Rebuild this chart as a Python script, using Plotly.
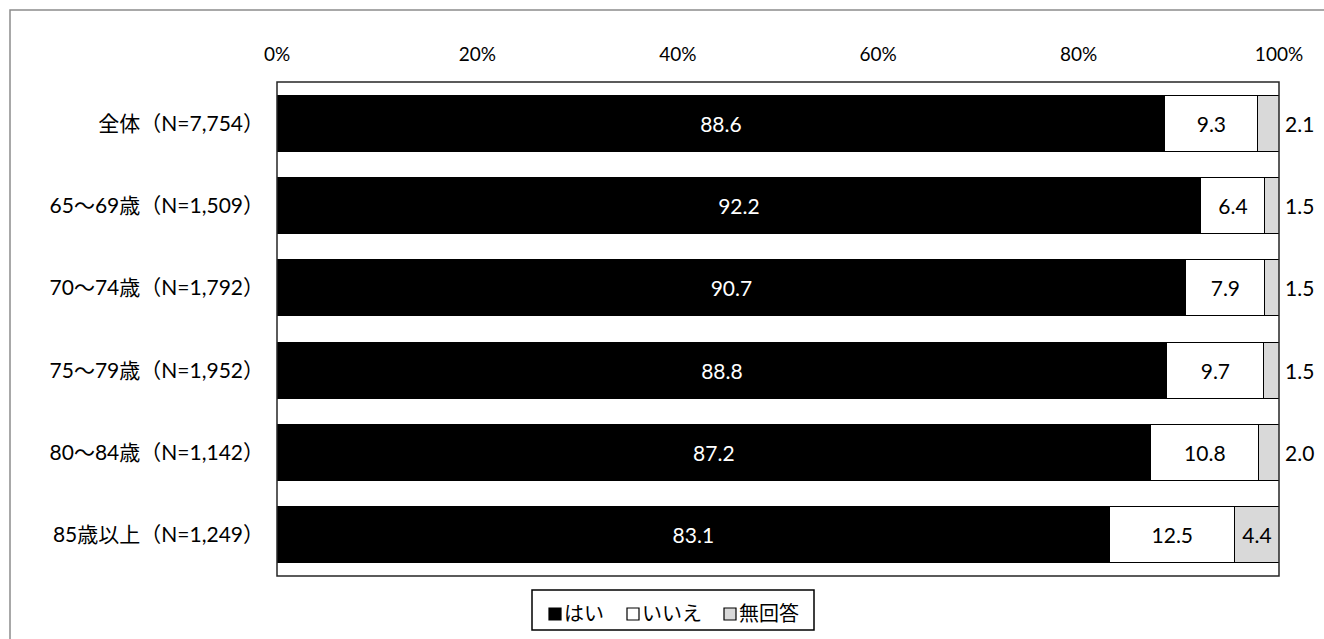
import plotly.graph_objects as go

categories = [
    "全体（N=7,754）",
    "65～69歳（N=1,509）",
    "70～74歳（N=1,792）",
    "75～79歳（N=1,952）",
    "80～84歳（N=1,142）",
    "85歳以上（N=1,249）",
]
series_names = ["はい", "いいえ", "無回答"]
yes_vals = [88.6, 92.2, 90.7, 88.8, 87.2, 83.1]
no_vals = [9.3, 6.4, 7.9, 9.7, 10.8, 12.5]
na_vals = [2.1, 1.5, 1.5, 1.5, 2.0, 4.4]
x_ticks = [0, 20, 40, 60, 80, 100]
x_tick_labels = ["0%", "20%", "40%", "60%", "80%", "100%"]

FONT = "Lato, Noto Sans CJK JP, sans-serif"
CJK = "Noto Sans CJK JP, sans-serif"
COLORS = ["#000000", "#ffffff", "#d9d9d9"]
TEXT_COLORS = ["#ffffff", "#000000", "#000000"]

W, H = 1324, 639
L, R, T, B = 277, 45, 82, 63
pw, ph = W - L - R, H - T - B


def px_x(px):
    return (px - L) / pw


def px_y(py):
    return (H - B - py) / ph


def fmt(v):
    return f"{v:.1f}"


fig = go.Figure()

series_vals = [yes_vals, no_vals, na_vals]
for i, (name, vals) in enumerate(zip(series_names, series_vals)):
    if i == 2:
        # narrow "no answer" segments are labelled beyond the bar end instead
        labels = [fmt(v) if v >= 3 else "" for v in vals]
    else:
        labels = [fmt(v) for v in vals]
    fig.add_trace(go.Bar(
        name=name, y=categories, x=vals, orientation="h",
        marker=dict(color=COLORS[i], line=dict(color="#000000", width=1)),
        text=labels, textposition="inside",
        insidetextanchor="middle", textangle=0,
        insidetextfont=dict(color=TEXT_COLORS[i], size=21, family=FONT),
        width=0.68, showlegend=False,
    ))

annotations = []
for c, a, b, v in zip(categories, yes_vals, no_vals, na_vals):
    if v < 3:
        annotations.append(dict(
            x=min(a + b + v, 100), y=c, xref="x", yref="y", text=fmt(v),
            showarrow=False, xanchor="left", xshift=4,
            font=dict(size=21, color="#000000", family=FONT),
        ))

shapes = [
    # plot frame
    dict(type="rect", xref="paper", yref="paper", x0=0, x1=1, y0=0, y1=1,
         line=dict(color="#262626", width=1.5), layer="above"),
    # outer chart border
    dict(type="rect", xref="paper", yref="paper",
         x0=px_x(10), x1=px_x(W + 20), y0=px_y(H + 20), y1=px_y(10),
         line=dict(color="#8c8c8c", width=1.5), layer="below"),
    # legend box
    dict(type="rect", xref="paper", yref="paper",
         x0=px_x(532), x1=px_x(814), y0=px_y(630), y1=px_y(590),
         line=dict(color="#000000", width=1.5), fillcolor="#ffffff"),
]

# legend entries: swatch followed by series name
legend_swatch_x = [549, 627, 724]
for name, color, sx in zip(series_names, COLORS, legend_swatch_x):
    shapes.append(dict(
        type="rect", xref="paper", yref="paper",
        x0=px_x(sx), x1=px_x(sx + 12), y0=px_y(620), y1=px_y(608),
        line=dict(color="#000000", width=1.2), fillcolor=color,
    ))
    annotations.append(dict(
        x=px_x(sx + 13), y=px_y(612), xref="paper", yref="paper",
        text=name, showarrow=False, xanchor="left", yanchor="middle",
        font=dict(size=20, color="#000000", family=CJK),
    ))

fig.update_layout(
    width=W, height=H,
    margin=dict(l=L, r=R, t=T, b=B),
    barmode="stack",
    paper_bgcolor="#ffffff",
    plot_bgcolor="#ffffff",
    font=dict(family=FONT, size=19, color="#000000"),
    xaxis=dict(
        range=[0, 100], side="top", tickvals=x_ticks, ticktext=x_tick_labels,
        showgrid=False, zeroline=False, showline=False, ticks="",
        tickfont=dict(size=19, color="#000000"), ticklabelstandoff=16,
        fixedrange=True,
    ),
    yaxis=dict(
        autorange="reversed", showgrid=False, zeroline=False, showline=False,
        ticks="", tickfont=dict(size=21, color="#000000"),
        ticklabelstandoff=12, fixedrange=True,
    ),
    annotations=annotations,
    shapes=shapes,
    showlegend=False,
)

fig.write_html("out.html")
